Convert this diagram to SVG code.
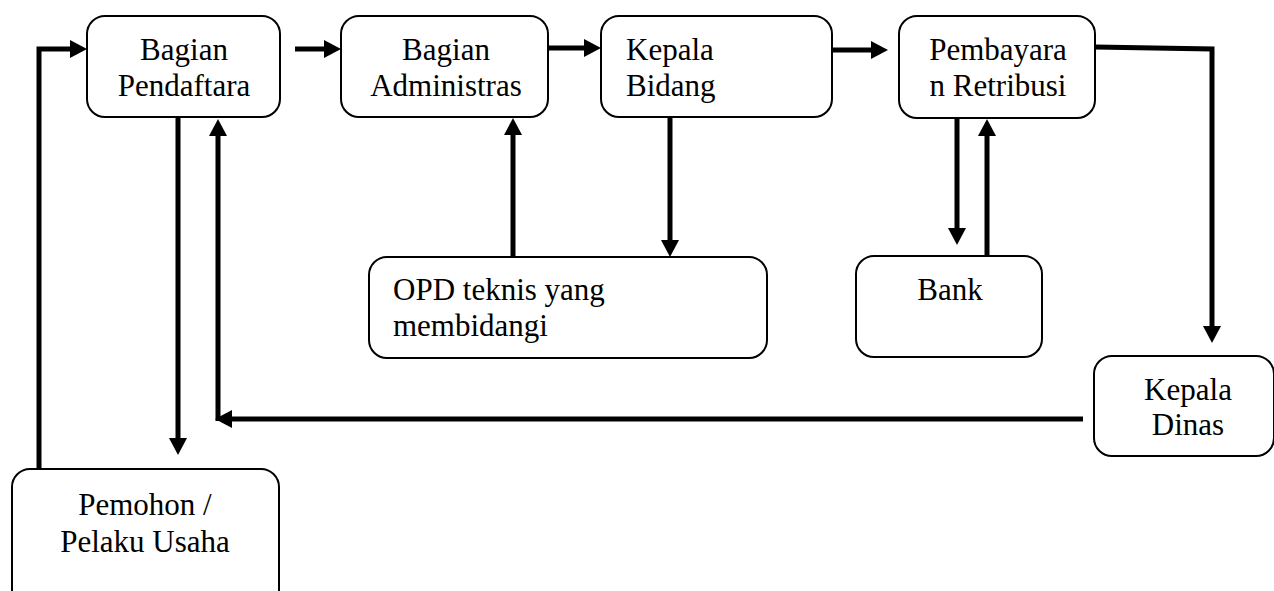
<svg xmlns="http://www.w3.org/2000/svg" width="1274" height="591" viewBox="0 0 1274 591">
<style>
.box{fill:#fff;stroke:#000;stroke-width:2}
.t{font-family:"Liberation Serif","Times New Roman",serif;font-size:31px;fill:#000}
.c{text-anchor:middle}
.ln{fill:none;stroke:#000;stroke-width:5;stroke-linejoin:miter}
</style>
<defs>
<marker id="ah" markerUnits="userSpaceOnUse" markerWidth="17" markerHeight="18" refX="0" refY="9" orient="auto" overflow="visible">
<path d="M0,0 L17,9 L0,18 z" fill="#000"/>
</marker>
</defs>
<rect width="1274" height="591" fill="#fff"/>
<g id="connectors">
<polyline class="ln" points="39,469 39,49 70,49" marker-end="url(#ah)"/>
<line class="ln" x1="295" y1="49" x2="324" y2="49" marker-end="url(#ah)"/>
<line class="ln" x1="548" y1="48" x2="584" y2="48" marker-end="url(#ah)"/>
<line class="ln" x1="832" y1="50" x2="871" y2="50" marker-end="url(#ah)"/>
<polyline class="ln" points="1095,47 1212,49 1212,326" marker-end="url(#ah)"/>
<line class="ln" x1="178" y1="118" x2="178" y2="438" marker-end="url(#ah)"/>
<line class="ln" x1="1083" y1="419" x2="232" y2="419" marker-end="url(#ah)"/>
<polyline class="ln" points="218,421 218,136" marker-end="url(#ah)"/>
<line class="ln" x1="513" y1="257" x2="513" y2="135" marker-end="url(#ah)"/>
<line class="ln" x1="670" y1="118" x2="670" y2="240" marker-end="url(#ah)"/>
<line class="ln" x1="957" y1="119" x2="957" y2="228" marker-end="url(#ah)"/>
<line class="ln" x1="987" y1="256" x2="987" y2="136" marker-end="url(#ah)"/>
</g>
<g id="pendaftaran">
<rect class="box" x="87" y="16" width="193" height="101" rx="18"/>
<text class="t c" x="184" y="60">Bagian</text>
<text class="t c" x="184" y="96">Pendaftara</text>
</g>
<g id="administrasi">
<rect class="box" x="341" y="16" width="207" height="101" rx="18"/>
<text class="t c" x="446" y="60">Bagian</text>
<text class="t c" x="446" y="96">Administras</text>
</g>
<g id="kepala-bidang">
<rect class="box" x="601" y="16" width="231" height="101" rx="18"/>
<text class="t" x="626" y="60">Kepala</text>
<text class="t" x="626" y="96">Bidang</text>
</g>
<g id="pembayaran">
<rect class="box" x="899" y="16" width="196" height="102" rx="18"/>
<text class="t c" x="998" y="60">Pembayara</text>
<text class="t c" x="998" y="96">n Retribusi</text>
</g>
<g id="opd">
<rect class="box" x="369" y="257" width="398" height="101" rx="18"/>
<text class="t" x="393" y="300">OPD teknis yang</text>
<text class="t" x="393" y="336">membidangi</text>
</g>
<g id="bank">
<rect class="box" x="856" y="256" width="186" height="101" rx="18"/>
<text class="t c" x="950" y="300">Bank</text>
</g>
<g id="kepala-dinas">
<rect class="box" x="1094" y="356" width="180" height="100" rx="18"/>
<text class="t c" x="1188" y="400">Kepala</text>
<text class="t c" x="1188" y="435">Dinas</text>
</g>
<g id="pemohon">
<rect class="box" x="12" y="469" width="267" height="140" rx="18"/>
<text class="t c" x="145" y="515">Pemohon /</text>
<text class="t c" x="145" y="552">Pelaku Usaha</text>
</g>
</svg>
